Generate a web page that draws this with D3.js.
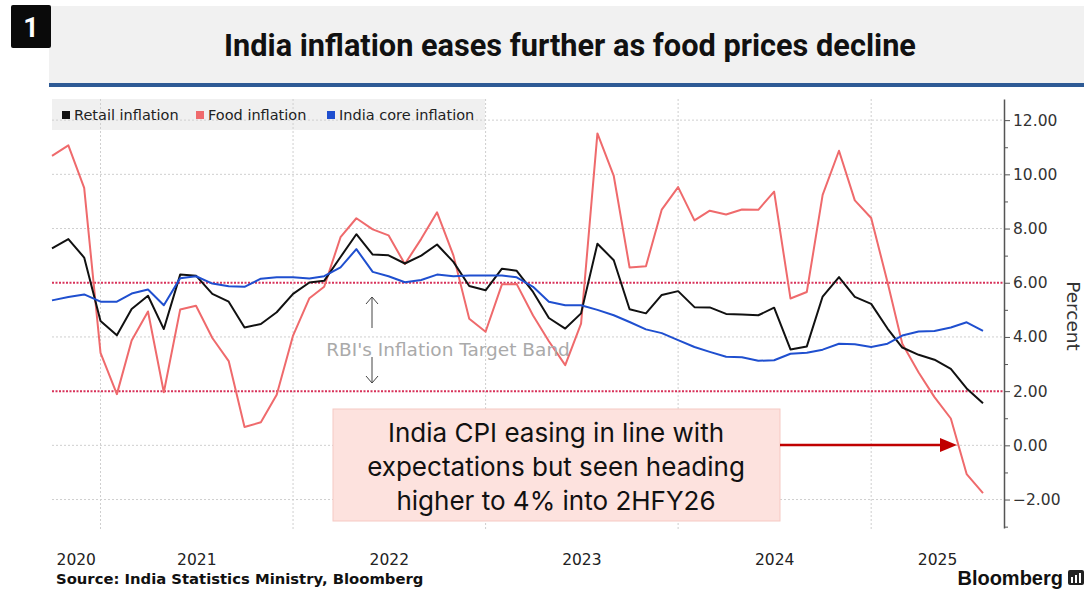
<!DOCTYPE html>
<html><head><meta charset="utf-8">
<script src="https://cdn.jsdelivr.net/npm/d3@7/dist/d3.min.js"></script>
<style>body{margin:0;background:#fff}svg{display:block}</style>
</head><body><svg id="c" width="1084" height="591"></svg>
<script>
// ---- data ----
const months = ["2020-10","2020-11","2020-12",
 "2021-01","2021-02","2021-03","2021-04","2021-05","2021-06","2021-07","2021-08","2021-09","2021-10","2021-11","2021-12",
 "2022-01","2022-02","2022-03","2022-04","2022-05","2022-06","2022-07","2022-08","2022-09","2022-10","2022-11","2022-12",
 "2023-01","2023-02","2023-03","2023-04","2023-05","2023-06","2023-07","2023-08","2023-09","2023-10","2023-11","2023-12",
 "2024-01","2024-02","2024-03","2024-04","2024-05","2024-06","2024-07","2024-08","2024-09","2024-10","2024-11","2024-12",
 "2025-01","2025-02","2025-03","2025-04","2025-05","2025-06","2025-07","2025-08"];
const retail = [7.27,7.61,6.93,4.59,4.06,5.03,5.52,4.29,6.30,6.26,5.59,5.30,4.35,4.48,4.91,5.59,6.01,6.07,6.95,7.79,
 7.04,7.01,6.71,7.00,7.41,6.77,5.88,5.72,6.52,6.44,5.66,4.70,4.31,4.87,7.44,6.83,5.02,4.87,5.55,5.69,
 5.10,5.09,4.85,4.83,4.80,5.08,3.54,3.65,5.49,6.21,5.48,5.22,4.31,3.61,3.34,3.16,2.82,2.10,1.55];
const food = [10.68,11.07,9.50,3.41,1.89,3.87,4.94,1.96,5.01,5.15,3.96,3.11,0.68,0.85,1.87,4.05,5.43,5.85,7.68,8.38,
 7.97,7.75,6.69,7.62,8.60,7.01,4.67,4.19,5.94,5.95,4.79,3.84,2.96,4.49,11.51,9.94,6.56,6.61,8.70,9.53,
 8.30,8.66,8.52,8.70,8.69,9.36,5.42,5.66,9.24,10.87,9.04,8.39,6.02,3.75,2.69,1.78,0.99,-1.06,-1.76];
const core = [5.35,5.47,5.57,5.30,5.30,5.60,5.75,5.17,6.17,6.24,5.97,5.87,5.85,6.15,6.20,6.20,6.16,6.24,6.57,7.24,
 6.40,6.24,6.02,6.10,6.30,6.24,6.27,6.27,6.27,6.20,5.85,5.30,5.17,5.17,5.00,4.80,4.55,4.28,4.14,3.88,
 3.63,3.45,3.27,3.25,3.12,3.14,3.38,3.42,3.53,3.75,3.73,3.63,3.75,4.05,4.20,4.22,4.35,4.54,4.22];
const seriesNames = ["Retail inflation","Food inflation","India core inflation"];
const seriesColors = ["#111111","#ef6a6c","#1f4fcf"];
const yTicks = [-2,0,2,4,6,8,10,12];
const yMinorTicks = [-3,-1,1,3,5,7,9,11];
const yearLabels = ["2020","2021","2022","2023","2024","2025"];
const targetBand = [2,6];

// ---- layout ----
const svg = d3.select("#c");
const L = 52, R = 1004, T = 99, B = 528;
const parse = d3.timeParse("%Y-%m");
const dates = months.map(parse);
const x = d3.scaleTime().domain([dates[0], dates[dates.length-1]]).range([L, 983]);
const y = d3.scaleLinear().domain([-3.05, 12.78]).range([B, T]);

function fitText(sel, target){
  const w = sel.node().getComputedTextLength();
  const fs = +sel.attr("font-size");
  sel.attr("font-size", fs*target/w);
}

// title banner
svg.append("rect").attr("x",49).attr("y",6).attr("width",1035).attr("height",78).attr("fill","#f1f1f1");
svg.append("rect").attr("x",49).attr("y",83).attr("width",1035).attr("height",4).attr("fill","#2e5a95");
svg.append("rect").attr("x",11).attr("y",5).attr("width",40).attr("height",43).attr("rx",2).attr("fill","#0a0a0a");
svg.append("text").attr("x",31).attr("y",37).attr("text-anchor","middle").attr("fill","#fff")
  .attr("font-family","Roboto, 'DejaVu Sans', sans-serif").attr("font-weight","bold").attr("font-size",27).text("1");
const title = svg.append("text").attr("x",570).attr("y",56).attr("text-anchor","middle").attr("fill","#111")
  .attr("font-family","Roboto, 'Liberation Sans', sans-serif").attr("font-weight","bold").attr("font-size",31)
  .text("India inflation eases further as food prices decline");
fitText(title, 692);

// legend background
svg.append("rect").attr("x",L).attr("y",T).attr("width",433).attr("height",31).attr("fill","#f0f0f0");

// gridlines
const g = svg.append("g");
g.selectAll(".hg").data(yTicks.filter(d=>!targetBand.includes(d))).join("line")
  .attr("x1",L).attr("x2",R).attr("y1",d=>y(d)).attr("y2",d=>y(d))
  .attr("stroke","#cfcfcf").attr("stroke-width",1).attr("stroke-dasharray","2,2");
const yearStarts = yearLabels.map(s=>new Date(+s,0,1));
g.selectAll(".vg").data(yearStarts.filter(d=>x(d)>L && x(d)<R)).join("line")
  .attr("x1",d=>x(d)).attr("x2",d=>x(d)).attr("y1",T).attr("y2",B+2)
  .attr("stroke","#cfcfcf").attr("stroke-width",1).attr("stroke-dasharray","2,2");

// target band lines
g.selectAll(".band").data(targetBand).join("line")
  .attr("x1",L).attr("x2",R).attr("y1",d=>y(d)).attr("y2",d=>y(d))
  .attr("stroke","#d8325a").attr("stroke-width",2).attr("stroke-dasharray","2,1.5");

// series
const line = d3.line().x((d,i)=>x(dates[i])).y(d=>y(d));
[food, retail, core].forEach((s,k)=>{
  const idx = [1,0,2][k];
  svg.append("path").datum(s).attr("d",line).attr("fill","none")
    .attr("stroke",seriesColors[idx]).attr("stroke-width",2).attr("stroke-linejoin","round");
});

// legend
const legendX = [62,196,327];
seriesNames.forEach((n,i)=>{
  svg.append("rect").attr("x",legendX[i]).attr("y",111).attr("width",8).attr("height",8).attr("fill",seriesColors[i]);
  svg.append("text").attr("x",legendX[i]+12).attr("y",120).attr("fill","#222")
    .attr("font-family","'DejaVu Sans', sans-serif").attr("font-size",14.5).text(n);
});

// y axis (right)
const ax = svg.append("g").attr("transform",`translate(${R},0)`)
  .call(d3.axisRight(y).tickValues(yTicks).tickFormat(d3.format(".2f")).tickSize(6).tickSizeOuter(0).tickPadding(3));
ax.select(".domain").attr("stroke","#555").attr("stroke-width",1.5);
ax.selectAll(".tick line").attr("stroke","#555");
ax.selectAll("text").attr("font-family","'DejaVu Sans', sans-serif").attr("font-size",15.5).attr("fill","#333");
const axm = svg.append("g").attr("transform",`translate(${R},0)`)
  .call(d3.axisRight(y).tickValues(yMinorTicks).tickFormat("").tickSize(4).tickSizeOuter(0));
axm.select(".domain").remove();
axm.selectAll(".tick line").attr("stroke","#555");
svg.append("text").attr("transform","translate(1073,316) rotate(90)").attr("text-anchor","middle")
  .attr("dominant-baseline","central").attr("font-family","'DejaVu Sans', sans-serif").attr("font-size",18.5)
  .attr("fill","#333").text("Percent");

// year labels centered in visible span
const xEnd = x.invert(R);
yearLabels.forEach((s,i)=>{
  const a = d3.max([new Date(+s,0,1), x.domain()[0]]);
  const b = d3.min([new Date(+s+1,0,1), xEnd]);
  svg.append("text").attr("x",(x(a)+x(b))/2).attr("y",565).attr("text-anchor","middle")
    .attr("font-family","'DejaVu Sans', sans-serif").attr("font-size",15.5).attr("fill","#222").text(s);
});

// RBI annotation
svg.append("text").attr("x",448).attr("y",356).attr("text-anchor","middle").attr("fill","#aaaaaa")
  .attr("font-family","'DejaVu Sans', sans-serif").attr("font-size",18.5).text("RBI's Inflation Target Band");
const arr = svg.append("g").attr("stroke","#444").attr("stroke-width",1).attr("fill","none");
arr.append("line").attr("x1",372).attr("x2",372).attr("y1",297).attr("y2",328);
arr.append("path").attr("d","M366,304 L372,297 L378,304");
arr.append("line").attr("x1",372).attr("x2",372).attr("y1",357).attr("y2",383);
arr.append("path").attr("d","M366,376 L372,383 L378,376");

// callout box
svg.append("rect").attr("x",333).attr("y",409).attr("width",447).attr("height",112)
  .attr("fill","#fde2de").attr("stroke","#f6c9c3").attr("stroke-width",1);
const calloutLines = ["India CPI easing in line with","expectations but seen heading","higher to 4% into 2HFY26"];
const calloutW = [333,378,318];
calloutLines.forEach((t,i)=>{
  const tx = svg.append("text").attr("x",556).attr("y",442+i*34).attr("text-anchor","middle").attr("fill","#111")
    .attr("font-family","Inter, 'Open Sans', sans-serif").attr("font-size",24).text(t);
  if(i===1) fitText(tx, calloutW[1]);
});
// use same size for all callout lines
{
  const nodes = svg.selectAll("text").filter(function(){return calloutLines.includes(this.textContent);});
  let fs = 24;
  nodes.each(function(){ if(this.textContent===calloutLines[1]) fs = +this.getAttribute("font-size"); });
  nodes.attr("font-size", fs);
}
svg.append("line").attr("x1",780).attr("x2",942).attr("y1",445).attr("y2",445).attr("stroke","#c00000").attr("stroke-width",2.5);
svg.append("path").attr("d","M940,438 L957,445 L940,452 Z").attr("fill","#c00000");

// footer
svg.append("text").attr("x",56).attr("y",584).attr("fill","#111")
  .attr("font-family","'DejaVu Sans', sans-serif").attr("font-weight","bold").attr("font-size",14.8)
  .text("Source: India Statistics Ministry, Bloomberg");
svg.append("text").attr("x",1063).attr("y",585).attr("text-anchor","end").attr("fill","#111")
  .attr("font-family","'Liberation Sans', Arial, sans-serif").attr("font-weight","bold").attr("font-size",20).text("Bloomberg");
svg.append("rect").attr("x",1068).attr("y",570).attr("width",16).attr("height",15).attr("rx",2).attr("fill","#222");
[1071,1075,1079].forEach((bx,i)=>svg.append("rect").attr("x",bx).attr("y",577-i*2).attr("width",2).attr("height",6+i*2).attr("fill","#fff"));
</script></body></html>
